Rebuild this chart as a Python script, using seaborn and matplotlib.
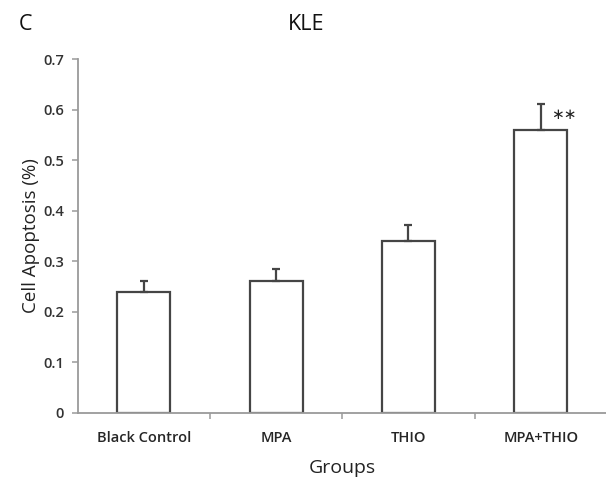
import matplotlib
matplotlib.use("Agg")
import matplotlib.pyplot as plt
import seaborn as sns
import pandas as pd

# Dades
groups = ["Black Control", "MPA", "THIO", "MPA+THIO"]
apoptosis = [0.24, 0.26, 0.341, 0.56]
sem = [0.021, 0.024, 0.031, 0.051]
sig_label = "∗∗"

df = pd.DataFrame({"Groups": groups, "Apoptosis": apoptosis, "SEM": sem})

sns.set_style("white")
plt.rcParams["font.family"] = ["Open Sans", "DejaVu Sans"]

fig = plt.figure(figsize=(6.06, 4.78), dpi=100)
ax = fig.add_axes([0.1284, 0.1366, 0.873, 0.7395])

dark = "#454545"
sns.barplot(data=df, x="Groups", y="Apoptosis", color="white", edgecolor=dark,
            linewidth=1.6, width=0.4, errorbar=None, ax=ax)
ax.errorbar(range(len(groups)), df["Apoptosis"], yerr=[[0] * len(groups), df["SEM"]],
            fmt="none", ecolor=dark, elinewidth=1.6, capsize=3.2, capthick=1.6)

# Asteriscs de significacio
ax.text(3.075, df["Apoptosis"][3] + 0.031, sig_label, fontsize=11, color="#222222",
        ha="left", va="center", family=["DejaVu Sans"])

ax.set_xlim(-0.5, 3.5)
ax.set_ylim(0, 0.7)
ax.set_yticks([0, 0.1, 0.2, 0.3, 0.4, 0.5, 0.6, 0.7])
ax.set_yticklabels(["0", "0.1", "0.2", "0.3", "0.4", "0.5", "0.6", "0.7"])
ax.set_xticks([0.5, 1.5, 2.5, 3.5], minor=True)

sns.despine(ax=ax)
for side in ["left", "bottom"]:
    ax.spines[side].set_color("#9a9a9a")
    ax.spines[side].set_linewidth(1.3)

ax.tick_params(axis="x", which="major", length=0, pad=13, labelsize=10.5, labelcolor="#262626")
ax.tick_params(axis="x", which="minor", length=4, width=1.1, color="#9a9a9a", direction="out", bottom=True)
ax.tick_params(axis="y", length=4, width=1.1, color="#9a9a9a", direction="out", left=True,
               labelsize=10.5, labelcolor="#333333", pad=6)
for lab in ax.get_xticklabels() + ax.get_yticklabels():
    lab.set_fontweight("semibold")

ax.set_xlabel("Groups", fontsize=14, color="#222222", labelpad=10)
ax.set_ylabel("Cell Apoptosis (%)", fontsize=13.5, color="#222222", labelpad=2.5)

fig.text(0.505, 0.948, "KLE", fontsize=15.5, ha="center", va="center", color="#111111")
fig.text(0.042, 0.948, "C", fontsize=15.5, ha="center", va="center", color="#111111")

fig.savefig("out.png", dpi=100)
